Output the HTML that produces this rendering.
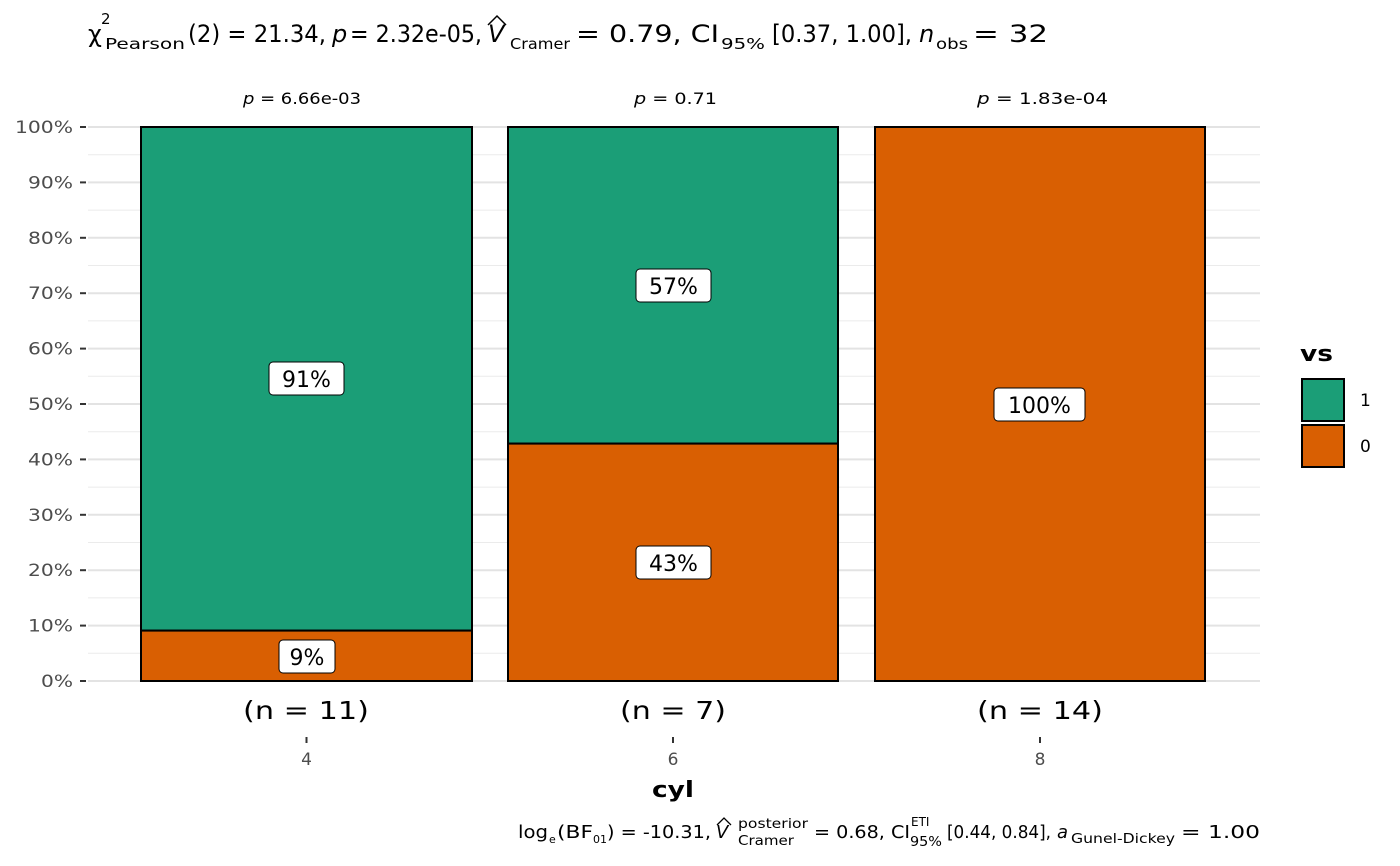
<!DOCTYPE html>
<html><head><style>body{margin:0;background:#fff}svg{display:block;font-family:"DejaVu Sans","Liberation Sans",sans-serif}</style></head><body>
<svg width="1400" height="866" viewBox="0 0 1400 866" xmlns="http://www.w3.org/2000/svg">
<rect width="1400" height="866" fill="#fff"/>
<g stroke="#ebebeb" stroke-width="1">
<line x1="88" x2="1260" y1="653.3" y2="653.3"/><line x1="88" x2="1260" y1="597.9" y2="597.9"/><line x1="88" x2="1260" y1="542.5" y2="542.5"/><line x1="88" x2="1260" y1="487.1" y2="487.1"/><line x1="88" x2="1260" y1="431.7" y2="431.7"/><line x1="88" x2="1260" y1="376.3" y2="376.3"/><line x1="88" x2="1260" y1="320.9" y2="320.9"/><line x1="88" x2="1260" y1="265.5" y2="265.5"/><line x1="88" x2="1260" y1="210.1" y2="210.1"/><line x1="88" x2="1260" y1="154.7" y2="154.7"/>
</g>
<g stroke="#e3e3e3" stroke-width="2">
<line x1="88" x2="1260" y1="681" y2="681"/><line x1="88" x2="1260" y1="625.6" y2="625.6"/><line x1="88" x2="1260" y1="570.2" y2="570.2"/><line x1="88" x2="1260" y1="514.8" y2="514.8"/><line x1="88" x2="1260" y1="459.4" y2="459.4"/><line x1="88" x2="1260" y1="404" y2="404"/><line x1="88" x2="1260" y1="348.6" y2="348.6"/><line x1="88" x2="1260" y1="293.2" y2="293.2"/><line x1="88" x2="1260" y1="237.8" y2="237.8"/><line x1="88" x2="1260" y1="182.4" y2="182.4"/><line x1="88" x2="1260" y1="127" y2="127"/>
</g>
<g stroke="#000" stroke-width="2">
<rect x="141" y="127" width="331" height="503.6" fill="#1b9e77"/>
<rect x="141" y="630.6" width="331" height="50.4" fill="#d95f02"/>
<rect x="508" y="127" width="330" height="316.6" fill="#1b9e77"/>
<rect x="508" y="443.6" width="330" height="237.4" fill="#d95f02"/>
<rect x="875" y="127" width="330" height="554" fill="#d95f02"/>
</g>
<g stroke="#000" stroke-width="1" fill="#fff">
<rect x="269" y="362" width="75" height="33" rx="4"/>
<rect x="279" y="640" width="56" height="33" rx="4"/>
<rect x="636" y="269" width="75" height="33" rx="4"/>
<rect x="636" y="546" width="75" height="33" rx="4"/>
<rect x="994" y="388" width="91" height="33" rx="4"/>
</g>
<g font-size="22" text-anchor="middle" fill="#000">
<text x="306.5" y="387">91%</text><text x="307" y="665">9%</text>
<text x="673.5" y="294">57%</text><text x="673.5" y="571">43%</text>
<text x="1039.5" y="413">100%</text>
</g>
<g font-size="17" fill="#4d4d4d" text-anchor="end" lengthAdjust="spacingAndGlyphs">
<text x="73" y="687" textLength="32" lengthAdjust="spacingAndGlyphs">0%</text>
<text x="73" y="631.6" textLength="45" lengthAdjust="spacingAndGlyphs">10%</text>
<text x="73" y="576.2" textLength="45" lengthAdjust="spacingAndGlyphs">20%</text>
<text x="73" y="520.8" textLength="45" lengthAdjust="spacingAndGlyphs">30%</text>
<text x="73" y="465.4" textLength="45" lengthAdjust="spacingAndGlyphs">40%</text>
<text x="73" y="410" textLength="45" lengthAdjust="spacingAndGlyphs">50%</text>
<text x="73" y="354.6" textLength="45" lengthAdjust="spacingAndGlyphs">60%</text>
<text x="73" y="299.2" textLength="45" lengthAdjust="spacingAndGlyphs">70%</text>
<text x="73" y="243.8" textLength="45" lengthAdjust="spacingAndGlyphs">80%</text>
<text x="73" y="188.4" textLength="45" lengthAdjust="spacingAndGlyphs">90%</text>
<text x="73" y="133" textLength="58" lengthAdjust="spacingAndGlyphs">100%</text>
</g>
<g stroke="#333" stroke-width="2">
<line x1="80" x2="86" y1="681" y2="681"/><line x1="80" x2="86" y1="625.6" y2="625.6"/><line x1="80" x2="86" y1="570.2" y2="570.2"/><line x1="80" x2="86" y1="514.8" y2="514.8"/><line x1="80" x2="86" y1="459.4" y2="459.4"/><line x1="80" x2="86" y1="404" y2="404"/><line x1="80" x2="86" y1="348.6" y2="348.6"/><line x1="80" x2="86" y1="293.2" y2="293.2"/><line x1="80" x2="86" y1="237.8" y2="237.8"/><line x1="80" x2="86" y1="182.4" y2="182.4"/><line x1="80" x2="86" y1="127" y2="127"/>
<line x1="306.5" x2="306.5" y1="737" y2="743"/><line x1="673" x2="673" y1="737" y2="743"/><line x1="1040" x2="1040" y1="737" y2="743"/>
</g>
<g font-size="25" fill="#000">
<text x="243" y="719" textLength="126" lengthAdjust="spacingAndGlyphs">(n = 11)</text>
<text x="620" y="719" textLength="106" lengthAdjust="spacingAndGlyphs">(n = 7)</text>
<text x="977" y="719" textLength="126" lengthAdjust="spacingAndGlyphs">(n = 14)</text>
</g>
<g font-size="17" text-anchor="middle" fill="#4d4d4d">
<text x="306.5" y="765">4</text><text x="673" y="765">6</text><text x="1040" y="765">8</text>
</g>
<text x="652" y="797" font-size="22" font-weight="bold" textLength="42" lengthAdjust="spacingAndGlyphs">cyl</text>
<g font-size="16" fill="#000">
<text x="243" y="104" textLength="118" lengthAdjust="spacingAndGlyphs"><tspan font-style="italic">p</tspan> = 6.66e-03</text>
<text x="634" y="104" textLength="83" lengthAdjust="spacingAndGlyphs"><tspan font-style="italic">p</tspan> = 0.71</text>
<text x="977" y="104" textLength="131" lengthAdjust="spacingAndGlyphs"><tspan font-style="italic">p</tspan> = 1.83e-04</text>
</g>
<!-- title -->
<g fill="#000">
<text x="88" y="42" font-size="24">χ</text>
<text x="101" y="24" font-size="15">2</text>
<text x="105" y="49" font-size="15" textLength="80" lengthAdjust="spacingAndGlyphs">Pearson</text>
<text x="188" y="42" font-size="24" textLength="138" lengthAdjust="spacingAndGlyphs">(2) = 21.34,</text>
<text x="332" y="42" font-size="24" font-style="italic">p</text>
<text x="350" y="42" font-size="24" textLength="132" lengthAdjust="spacingAndGlyphs">= 2.32e-05,</text>
<text x="488" y="42" font-size="24" font-style="italic">V</text>
<path d="M488 25 L497 16 L506 25" fill="none" stroke="#000" stroke-width="1.5"/>
<text x="510" y="49" font-size="15" textLength="60" lengthAdjust="spacingAndGlyphs">Cramer</text>
<text x="576" y="42" font-size="24" textLength="143" lengthAdjust="spacingAndGlyphs">= 0.79, CI</text>
<text x="721" y="49" font-size="15" textLength="44" lengthAdjust="spacingAndGlyphs">95%</text>
<text x="772" y="42" font-size="24" textLength="140" lengthAdjust="spacingAndGlyphs">[0.37, 1.00],</text>
<text x="919" y="42" font-size="24" font-style="italic">n</text>
<text x="936" y="49" font-size="15" textLength="32" lengthAdjust="spacingAndGlyphs">obs</text>
<text x="973" y="42" font-size="24" textLength="75" lengthAdjust="spacingAndGlyphs">= 32</text>
</g>
<!-- bottom caption -->
<g fill="#000">
<text x="518" y="838" font-size="18" textLength="30" lengthAdjust="spacingAndGlyphs">log</text>
<text x="549" y="843" font-size="11">e</text>
<text x="557" y="838" font-size="18" textLength="36" lengthAdjust="spacingAndGlyphs">(BF</text>
<text x="593" y="843" font-size="11">01</text>
<text x="607" y="838" font-size="18" textLength="104" lengthAdjust="spacingAndGlyphs">) = -10.31,</text>
<text x="716" y="838" font-size="18" font-style="italic">V</text>
<path d="M717 825 L724 818 L731 825" fill="none" stroke="#000" stroke-width="1.3"/>
<text x="738" y="828" font-size="13" textLength="70" lengthAdjust="spacingAndGlyphs">posterior</text>
<text x="738" y="845" font-size="13" textLength="56" lengthAdjust="spacingAndGlyphs">Cramer</text>
<text x="814" y="838" font-size="18" textLength="96" lengthAdjust="spacingAndGlyphs">= 0.68, CI</text>
<text x="911" y="826" font-size="12">ETI</text>
<text x="910" y="846" font-size="13" textLength="32" lengthAdjust="spacingAndGlyphs">95%</text>
<text x="947" y="838" font-size="18" textLength="104" lengthAdjust="spacingAndGlyphs">[0.44, 0.84],</text>
<text x="1057" y="838" font-size="18" font-style="italic">a</text>
<text x="1071" y="843" font-size="13" textLength="104" lengthAdjust="spacingAndGlyphs">Gunel-Dickey</text>
<text x="1181" y="838" font-size="18" textLength="79" lengthAdjust="spacingAndGlyphs">= 1.00</text>
</g>
<text x="1300" y="361" font-size="22" font-weight="bold" textLength="33" lengthAdjust="spacingAndGlyphs">vs</text>
<rect x="1302" y="379" width="42" height="42" fill="#1b9e77" stroke="#000" stroke-width="2"/>
<rect x="1302" y="425" width="42" height="42" fill="#d95f02" stroke="#000" stroke-width="2"/>
<text x="1360" y="406" font-size="17">1</text>
<text x="1360" y="452" font-size="17">0</text>
</svg>
</body></html>
